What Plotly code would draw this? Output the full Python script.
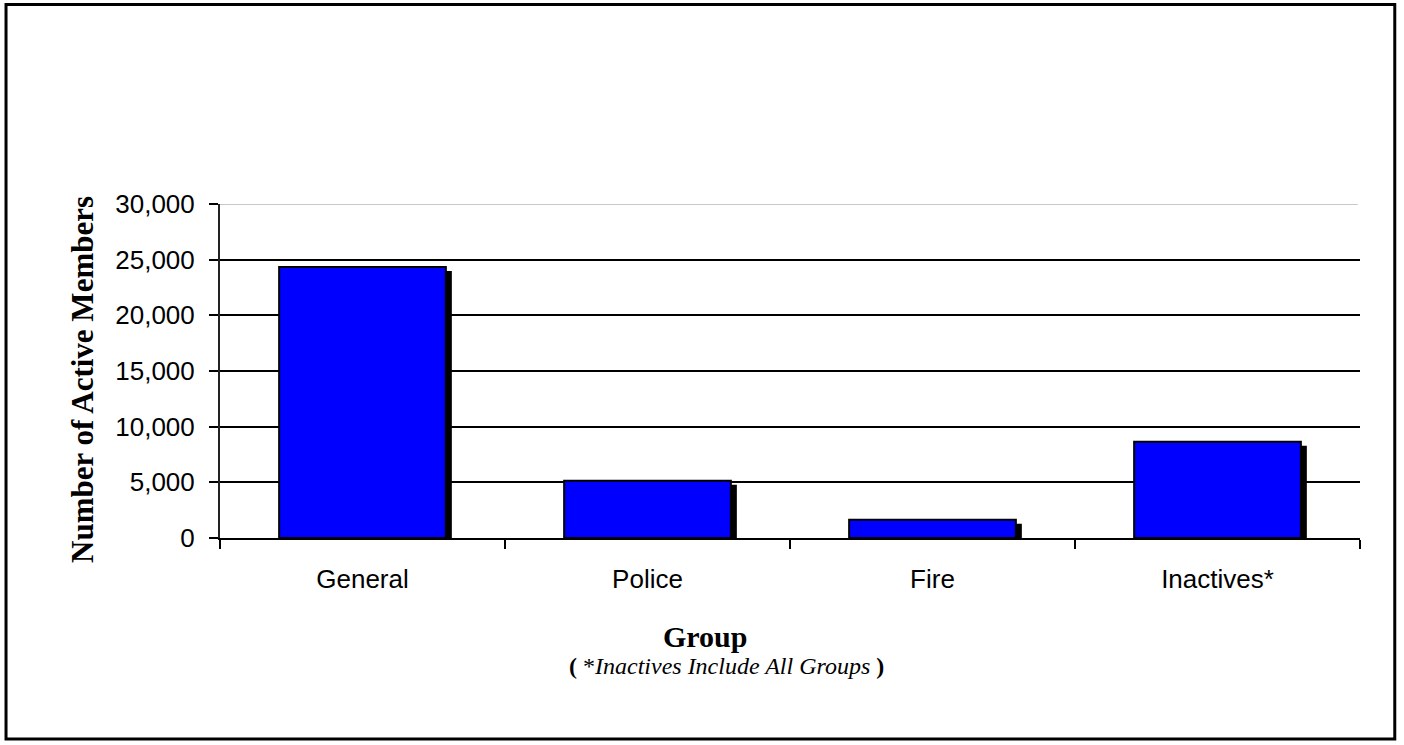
import plotly.graph_objects as go

# Membership counts by group
groups = ["General", "Police", "Fire", "Inactives*"]
members = [24350, 5150, 1650, 8650]

y_ticks = [0, 5000, 10000, 15000, 20000, 25000, 30000]
y_range = [0, 30000]

bar_width = 0.585
shadow_dx = 0.021      # shadow shift in category units
shadow_dy = 360        # shadow drop in member units

fig = go.Figure()

# drop shadow behind each bar
fig.add_trace(go.Bar(
    x=groups,
    y=[v - shadow_dy for v in members],
    width=bar_width,
    offset=-bar_width / 2 + shadow_dx,
    marker=dict(color="black", line=dict(width=0)),
    hoverinfo="skip",
))

# main bars
fig.add_trace(go.Bar(
    x=groups,
    y=members,
    width=bar_width,
    offset=-bar_width / 2,
    marker=dict(color="#0000FF", line=dict(color="black", width=2)),
))

serif = "Liberation Serif, Times New Roman, serif"

fig.update_layout(
    width=1404,
    height=745,
    margin=dict(l=220, r=44, t=204, b=207, autoexpand=False),
    barmode="overlay",
    showlegend=False,
    paper_bgcolor="white",
    plot_bgcolor="white",
    font=dict(family="Liberation Sans, Arial, sans-serif", size=26, color="black"),
    xaxis=dict(
        type="category",
        showline=True, linecolor="black", linewidth=2,
        ticks="outside", tickson="boundaries", ticklen=9, tickwidth=2, tickcolor="black",
        showgrid=False,
        ticklabelstandoff=17,
    ),
    yaxis=dict(
        range=y_range,
        tickvals=y_ticks,
        tickformat=",",
        showline=True, linecolor="#222222", linewidth=2,
        ticks="outside", ticklen=9, tickwidth=2, tickcolor="black",
        showgrid=True, gridcolor="black", gridwidth=2,
        zeroline=False,
        ticklabelstandoff=9,
    ),
    shapes=[
        # light top gridline at the axis maximum
        dict(type="line", xref="paper", yref="y", x0=0, x1=0.998,
             y0=y_ticks[-1], y1=y_ticks[-1], line=dict(color="#c8c8c8", width=2), layer="above"),
        # frame around the whole chart
        dict(type="rect", xref="paper", yref="paper",
             x0=-0.1877, x1=1.0305, y0=-0.6016, y1=1.5974,
             line=dict(color="black", width=3), layer="below"),
    ],
    annotations=[
        dict(text="<b>Number of Active Members</b>", xref="paper", yref="paper",
             x=-0.1205, y=0.475, xanchor="center", yanchor="middle",
             textangle=-90, showarrow=False,
             font=dict(family=serif, size=31)),
        dict(text="<b>Group</b>", xref="paper", yref="paper",
             x=0.4255, y=-0.295, xanchor="center", yanchor="middle", showarrow=False,
             font=dict(family=serif, size=30)),
        dict(text="<b>(</b> *<i>Inactives Include All Groups </i><b>)</b>", xref="paper", yref="paper",
             x=0.4439, y=-0.382, xanchor="center", yanchor="middle", showarrow=False,
             font=dict(family=serif, size=24)),
    ],
)

fig.write_html("out.html")
